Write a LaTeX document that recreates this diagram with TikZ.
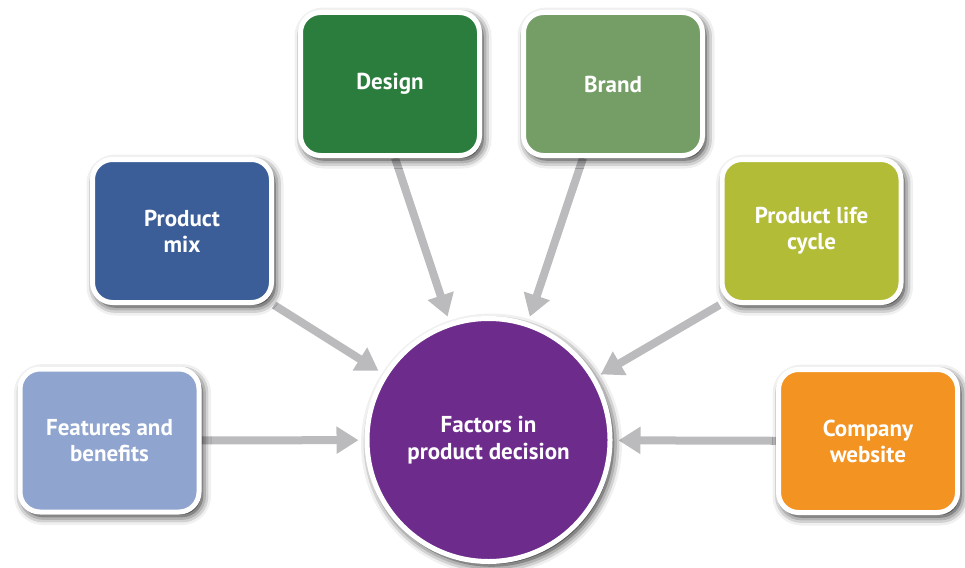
\documentclass[tikz,border=0pt]{standalone}
\usepackage{fontspec}
\setmainfont{PT Sans}
\usetikzlibrary{arrows.meta,shadows.blur,backgrounds,calc}
\definecolor{cfeat}{HTML}{8FA5CF}
\definecolor{cmix}{HTML}{3B5E98}
\definecolor{cdesign}{HTML}{2B7D3E}
\definecolor{cbrand}{HTML}{759E67}
\definecolor{cplc}{HTML}{B2BC36}
\definecolor{ccomp}{HTML}{F39322}
\definecolor{chub}{HTML}{6D2C8B}
\definecolor{carrow}{HTML}{BBBBBE}
\begin{document}
\begin{tikzpicture}[x=1pt,y=-1pt,
  shad/.style={blur shadow={shadow xshift=3pt, shadow yshift=-4pt, shadow blur radius=9pt, shadow opacity=95}},
  box/.style={rectangle, rounded corners=20pt, draw=white, line width=5pt,
    minimum width=179pt, minimum height=143pt, text=white, align=center,
    font=\bfseries\fontsize{23}{26}\selectfont, shad},
  hubnode/.style={circle, draw=white, line width=5pt, minimum size=243pt,
    fill=chub, text=white, align=center, font=\bfseries\fontsize{23}{27}\selectfont, shad},
  link/.style={draw=carrow, line width=8pt, -{Triangle[length=22pt,width=26pt]}, shorten >=6pt}
]
\useasboundingbox (0,0) rectangle (965,567);
\node[hubnode] (hub) at (488.5,440) {Factors in\\product decision};
\node[box, fill=cfeat] (feat) at (109.5,440.5) {Features and\\benefits};
\node[box, fill=cmix] (mix) at (182,231) {Product\\mix};
\node[box, fill=cdesign] (design) at (390,84) {Design};
\node[box, fill=cbrand] (brand) at (613,84) {Brand};
\node[box, fill=cplc] (plc) at (811.5,231) {Product life\\cycle};
\node[box, fill=ccomp] (comp) at (868,441) {Company\\website};
\begin{scope}[on background layer]
\draw[link] (feat) -- (hub);
\draw[link] (comp) -- (hub);
\draw[link] (mix.south east) -- (hub);
\draw[link] (plc.south west) -- (hub);
\draw[link] ($(design.south)+(5,0)$) -- (hub);
\draw[link] ($(brand.south)+(-30,0)$) -- (hub);
\end{scope}
\end{tikzpicture}
\end{document}
